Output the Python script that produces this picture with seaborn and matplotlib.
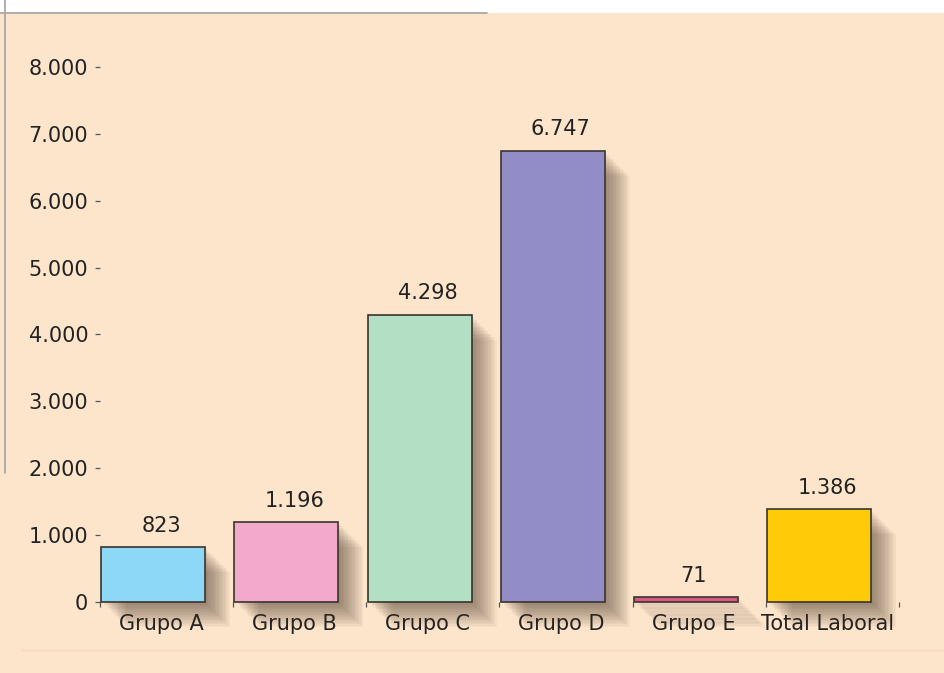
import matplotlib
matplotlib.use("Agg")
import matplotlib.pyplot as plt
import matplotlib.patheffects as pe
from matplotlib.patches import Rectangle
from matplotlib.lines import Line2D
import pandas as pd
import seaborn as sns

# Dados
categorias = ["Grupo A", "Grupo B", "Grupo C", "Grupo D", "Grupo E", "Total Laboral"]
valores = [823, 1196, 4298, 6747, 71, 1386]
cores = ["#8DD7F7", "#F3A9C9", "#B3DFC4", "#928CC7", "#D9587D", "#FFCB08"]
yticks = [0, 1000, 2000, 3000, 4000, 5000, 6000, 7000, 8000]


def milhar(v):
    return f"{v:,.0f}".replace(",", ".")


sns.set_theme(style="white")
plt.rcParams["font.family"] = ["DejaVu Sans"]

fundo = "#FDE5CB"
W, H = 945, 673
fig = plt.figure(figsize=(W / 100, H / 100), dpi=100, facecolor=fundo)

# faixa branca no topo e linhas cinzentas
fig.patches.append(Rectangle((0, 660 / H), 1, 13 / H, transform=fig.transFigure,
                             facecolor="white", edgecolor="none", zorder=0))
fig.lines.append(Line2D([0, 487 / W], [660 / H, 660 / H], transform=fig.transFigure,
                        color="#a8a8a8", lw=1.3))
fig.lines.append(Line2D([5 / W, 5 / W], [1, 200 / H], transform=fig.transFigure,
                        color="#a8a8a8", lw=1.3))
fig.lines.append(Line2D([22 / W, 1], [23 / H, 23 / H], transform=fig.transFigure,
                        color="#f2d8bd", lw=1))

ax = fig.add_axes([100 / W, 71 / H, 799 / W, 589 / H])
ax.patch.set_alpha(0)

df = pd.DataFrame({"grupo": categorias, "valor": valores})
sns.barplot(data=df, x="grupo", y="valor", hue="grupo", palette=cores,
            width=0.78, saturation=1, legend=False, ax=ax,
            edgecolor="#3a3430", linewidth=1.2)

# sombra difusa
sombra = [pe.SimplePatchShadow(offset=(k, -k), shadow_rgbFace="#4e3a2c", alpha=0.04)
          for k in range(1, 19)]
for p in ax.patches:
    p.set_path_effects(sombra + [pe.Normal()])
    p.set_clip_on(False)

# rótulos dos valores
for i, v in enumerate(valores):
    ax.annotate(milhar(v), (i + 0.06, v), xytext=(0, 11), textcoords="offset points",
                ha="center", va="baseline", fontsize=15, color="#222222")

ax.set_xlim(-0.4, 5.6)
ax.set_ylim(0, 8807)
ax.set_xticks([i + 0.06 for i in range(len(categorias))])
ax.set_xticklabels(categorias, fontsize=15, color="#222222")
ax.set_xticks([i - 0.4 for i in range(len(categorias) + 1)], minor=True)
ax.tick_params(axis="x", which="major", length=0, pad=9)
ax.tick_params(axis="x", which="minor", bottom=True, length=3.5, width=0.9, color="#555555")
ax.set_yticks(yticks)
ax.set_yticklabels([milhar(v) for v in yticks], fontsize=15, color="#222222")
ax.tick_params(axis="y", left=True, length=3.5, width=0.9, color="#555555", pad=5)
ax.set_xlabel("")
ax.set_ylabel("")
for s in ax.spines.values():
    s.set_visible(False)

fig.savefig("out.png", dpi=100, facecolor=fig.get_facecolor())
